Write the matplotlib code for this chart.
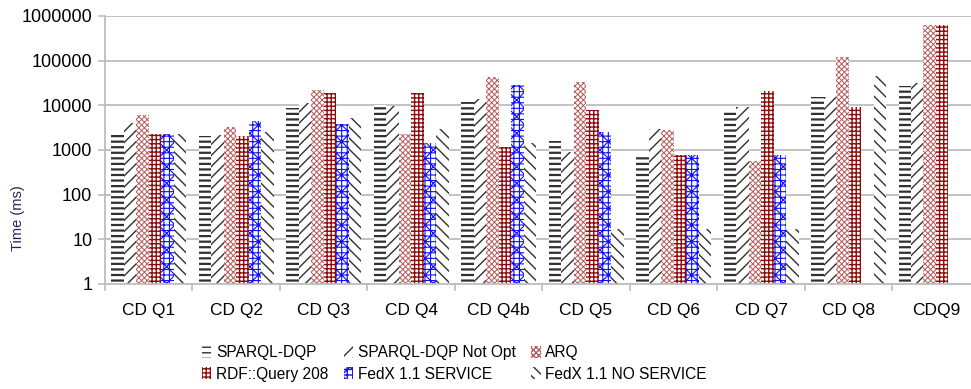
import numpy as np
import matplotlib
matplotlib.use('Agg')
import matplotlib.pyplot as plt
from matplotlib.ticker import FixedLocator, NullLocator, FuncFormatter
from matplotlib.patches import Patch

plt.rcParams['font.family'] = ['Liberation Sans', 'DejaVu Sans']

queries = ['CD Q1', 'CD Q2', 'CD Q3', 'CD Q4', 'CD Q4b',
           'CD Q5', 'CD Q6', 'CD Q7', 'CD Q8', 'CDQ9']

nan = np.nan
# query times in ms, nan where the system has no result
sparql_dqp = [2200, 2100, 8500, 10000, 12000, 1550, 750, 7200, 15000, 27000]
sparql_dqp_not_opt = [4000, 2200, 11000, 9500, 13500, 920, 3000, 9300, 15500, 31000]
arq = [6000, 3300, 22000, 2300, 42000, 34000, 2800, 570, 120000, 630000]
rdf_query = [2300, 2100, 19000, 19000, 1150, 7800, 770, 21000, 9300, 630000]
fedx_service = [2300, 4500, 3800, 1400, 28000, 2500, 770, 770, nan, nan]
fedx_no_service = [2300, 2500, 5200, 3000, 1400, 16, 16, 16, 45000, nan]

series = [
    ('SPARQL-DQP', sparql_dqp, '#303030', '---', 1.6),
    ('SPARQL-DQP Not Opt', sparql_dqp_not_opt, '#303030', '///', 1.0),
    ('ARQ', arq, '#b85a5a', 'xxxxxx', 0.7),
    ('RDF::Query 208', rdf_query, '#8c0c0c', '++++', 1.0),
    ('FedX 1.1 SERVICE', fedx_service, '#1010ff', '+++xx', 0.8),
    ('FedX 1.1 NO SERVICE', fedx_no_service, '#303030', '\\\\\\', 1.0),
]

fig = plt.figure(figsize=(9.71, 3.89), dpi=100)
ax = fig.add_axes([0.108, 0.270, 0.901, 0.689])

x = np.arange(len(queries))
w = 1.0 / 7
handles = []
for j, (name, vals, col, hatch, hlw) in enumerate(series):
    with plt.rc_context({'hatch.linewidth': hlw}):
        ax.bar(x + (j - 2.5) * w, vals, width=w, bottom=1, facecolor='white',
               edgecolor=col, hatch=hatch, linewidth=0, zorder=2)
        handles.append(Patch(facecolor='white', edgecolor=col, hatch=hatch,
                             linewidth=0, label=name))

ax.set_yscale('log')
ax.set_ylim(1, 1e6)
ax.set_xlim(-0.5, len(queries) - 0.5)
ax.yaxis.set_major_locator(FixedLocator([10 ** k for k in range(7)]))
ax.yaxis.set_minor_locator(NullLocator())
ax.yaxis.set_major_formatter(FuncFormatter(lambda v, p: '%d' % round(v)))
ax.yaxis.grid(True, color='#bdbdbd', linewidth=1.3, zorder=0)
ax.set_axisbelow(True)

ax.set_xticks(x)
ax.set_xticklabels(queries)
ax.xaxis.set_minor_locator(FixedLocator(np.arange(len(queries) + 1) - 0.5))
ax.tick_params(axis='x', which='major', length=0, pad=14, labelsize=12.5)
ax.tick_params(axis='x', which='minor', length=5, color='#bdbdbd', width=1.2)
ax.tick_params(axis='y', length=5, color='#bdbdbd', width=1.2, labelsize=13, pad=4)

for s in ['top', 'right']:
    ax.spines[s].set_visible(False)
for s in ['left', 'bottom']:
    ax.spines[s].set_color('#bdbdbd')
    ax.spines[s].set_linewidth(1.3)

fig.text(0.019, 0.44, 'Time (ms)', rotation=90, va='center', ha='center',
         fontsize=10.5, color='#1f2a5a')

# row-major order for a 3 column legend
order = [0, 3, 1, 4, 2, 5]
ax.legend([handles[i] for i in order], [series[i][0] for i in order],
          ncol=3, loc='upper left', bbox_to_anchor=(0.2, 0.132),
          bbox_transform=fig.transFigure, frameon=False, fontsize=11.2,
          handlelength=0.6, handleheight=0.8, handletextpad=0.3,
          columnspacing=1.0, labelspacing=0.4, borderpad=0)

fig.savefig('out.png', dpi=100)
